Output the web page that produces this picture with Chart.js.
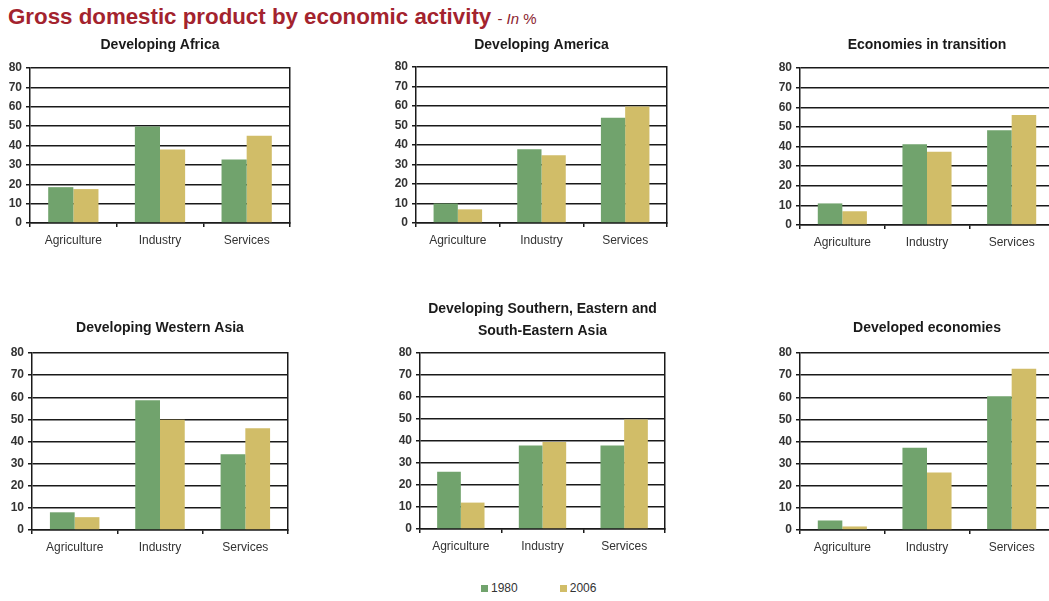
<!DOCTYPE html>
<html>
<head>
<meta charset="utf-8">
<script src="https://cdn.jsdelivr.net/npm/chart.js@4.4.1/dist/chart.umd.min.js"></script>
<style>
  html, body { margin:0; padding:0; background:#fff; width:1049px; height:601px; overflow:hidden; }
  .box { position:absolute; }
  #title { position:absolute; left:8px; top:4px; font-family:"Liberation Sans", Arial, sans-serif; font-weight:bold; font-size:22.3px; color:#a3232e; white-space:nowrap; }
  #title .sub { font-weight:normal; font-size:15px; color:#8b2530; }
  #title .sub i { font-style:italic; }
  #legend { position:absolute; top:581px; left:481px; font-family:"Liberation Sans", Arial, sans-serif; font-size:12px; color:#333; white-space:nowrap; }
  #legend span.sw { display:inline-block; width:7px; height:7px; margin-right:3px; vertical-align:0px; }
  #legend span.item { margin-right:42px; }
</style>
</head>
<body>
<div id="title">Gross domestic product by economic activity <span class="sub">- <i>In</i> %</span></div>

<div class="box" id="b1"><canvas id="c1"></canvas></div>
<div class="box" id="b2"><canvas id="c2"></canvas></div>
<div class="box" id="b3"><canvas id="c3"></canvas></div>
<div class="box" id="b4"><canvas id="c4"></canvas></div>
<div class="box" id="b5"><canvas id="c5"></canvas></div>
<div class="box" id="b6"><canvas id="c6"></canvas></div>

<div id="legend"></div>

<script>
// ---- data ----
const categories = ['Agriculture', 'Industry', 'Services'];
const seriesNames = ['1980', '2006'];
const yTicks = [0, 10, 20, 30, 40, 50, 60, 70, 80];

const panelTitles = [
  'Developing Africa',
  'Developing America',
  'Economies in transition',
  'Developing Western Asia',
  ['Developing Southern, Eastern and', 'South-Eastern Asia'],
  'Developed economies'
];

const africa1980 = [18.5, 49.8, 32.8];
const africa2006 = [17.5, 38, 45];
const america1980 = [10, 37.8, 54];
const america2006 = [7, 34.8, 59.8];
const transition1980 = [11, 41.2, 48.3];
const transition2006 = [7, 37.3, 56];
const westAsia1980 = [8, 58.7, 34.2];
const westAsia2006 = [5.8, 49.8, 46];
const southEastAsia1980 = [26, 38, 38];
const southEastAsia2006 = [12, 39.5, 49.8];
const developed1980 = [4.3, 37.2, 60.5];
const developed2006 = [1.6, 26, 72.9];

// ---- style / layout ----
const COLORS = ['#71a36d', '#d1bd68'];
const LINE = '#1a1a1a';
const Y_AXIS_W = 30, X_AXIS_H = 30;
const FONT = '"Liberation Sans", Arial, sans-serif';

// plot area boxes (left, right, top, bottom) and title box top
const layouts = [
  {pl: 30,  pr: 290,  pt: 68,  pb: 223, tt: 34},
  {pl: 416, pr: 667,  pt: 67,  pb: 223, tt: 34},
  {pl: 800, pr: 1054, pt: 68,  pb: 225, tt: 34},
  {pl: 32,  pr: 288,  pt: 353, pb: 530, tt: 317},
  {pl: 420, pr: 665,  pt: 353, pb: 529, tt: 298},
  {pl: 800, pr: 1054, pt: 353, pb: 530, tt: 317}
];

const panelData = [
  [africa1980, africa2006],
  [america1980, america2006],
  [transition1980, transition2006],
  [westAsia1980, westAsia2006],
  [southEastAsia1980, southEastAsia2006],
  [developed1980, developed2006]
];

const TITLE_LH = 22;

function makePanel(i) {
  const L = layouts[i];
  const title = panelTitles[i];
  const lines = Array.isArray(title) ? title.length : 1;
  const left = L.pl - Y_AXIS_W;
  const top = L.tt;
  const width = L.pr + 2 - left;
  const height = L.pb + X_AXIS_H - top;
  const titleBottomPad = L.pt - (top + lines * TITLE_LH);
  const box = document.getElementById('b' + (i + 1));
  box.style.left = left + 'px';
  box.style.top = top + 'px';
  box.style.width = width + 'px';
  box.style.height = height + 'px';

  new Chart(document.getElementById('c' + (i + 1)), {
    type: 'bar',
    data: {
      labels: categories,
      datasets: seriesNames.map((n, k) => ({
        label: n,
        data: panelData[i][k],
        backgroundColor: COLORS[k],
        borderWidth: 0,
        categoryPercentage: 0.58,
        barPercentage: 1.0
      }))
    },
    options: {
      responsive: true,
      maintainAspectRatio: false,
      animation: false,
      layout: { padding: { left: 0, right: 2, top: 0, bottom: 0 } },
      plugins: {
        legend: { display: false },
        tooltip: { enabled: false },
        title: {
          display: true,
          text: title,
          fullSize: false,
          color: '#1a1a1a',
          font: { family: FONT, size: 14, weight: 'bold', lineHeight: TITLE_LH / 14 },
          padding: { top: 0, bottom: titleBottomPad }
        }
      },
      scales: {
        x: {
          grid: { display: true, drawOnChartArea: false, offset: true, tickLength: 4, color: LINE, lineWidth: 1.5 },
          border: { display: true, color: LINE, width: 1.5 },
          ticks: {
            autoSkip: false, maxRotation: 0, padding: 6, color: '#333',
            font: { family: FONT, size: 12 }
          },
          afterFit: s => { s.height = X_AXIS_H; }
        },
        y: {
          min: 0, max: 80,
          afterBuildTicks: s => { s.ticks = yTicks.map(v => ({ value: v })); },
          grid: { color: LINE, lineWidth: 1.5, tickLength: 4 },
          border: { display: true, color: LINE, width: 1.5 },
          ticks: {
            padding: 4, color: '#333',
            font: { family: FONT, size: 12, weight: 'bold' }
          },
          afterFit: s => { s.width = Y_AXIS_W; }
        },
        y2: {
          position: 'right',
          display: true,
          grid: { drawOnChartArea: false, drawTicks: false },
          border: { display: true, color: LINE, width: 1.5 },
          ticks: { display: false },
          afterFit: s => { s.width = 0; }
        }
      }
    }
  });
}

for (let i = 0; i < 6; i++) makePanel(i);

// legend
const legend = document.getElementById('legend');
legend.innerHTML = seriesNames.map((n, k) =>
  '<span class="item"><span class="sw" style="background:' + COLORS[k] + '"></span>' + n + '</span>'
).join('');
</script>
</body>
</html>
